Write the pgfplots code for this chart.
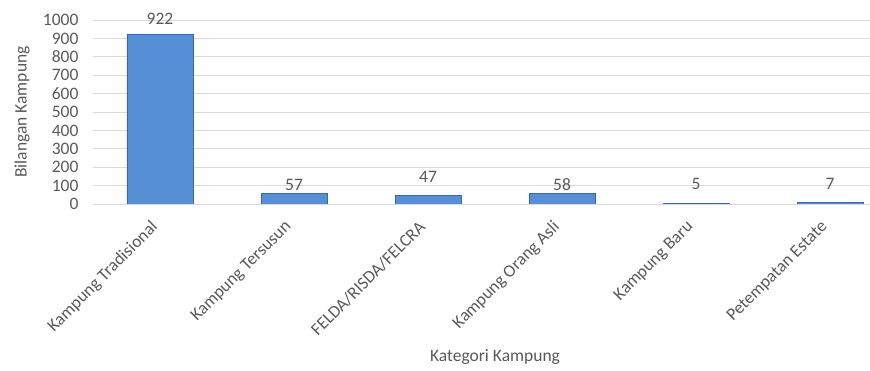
\documentclass[border=0pt]{standalone}
\usepackage{pgfplots}
\pgfplotsset{compat=1.18}
\usepackage{fontspec}
\setmainfont{Carlito}
\definecolor{barblue}{RGB}{86,143,214}
\definecolor{bardark}{RGB}{55,105,170}
\definecolor{txtgray}{RGB}{89,89,89}
\definecolor{gridgray}{RGB}{217,217,217}
\newcommand{\cfont}{\fontsize{17.5}{20}\selectfont}
\begin{document}
\begin{tikzpicture}
\useasboundingbox (-93pt,-166pt) rectangle (777pt,204pt);
\begin{axis}[
  at={(0pt,0pt)}, anchor=south west,
  scale only axis,
  width=804pt, height=184pt,
  ymin=0, ymax=1000,
  ytick={0,100,...,1000},
  xmin=-0.5, xmax=5.5,
  xtick={0,1,2,3,4,5},
  xticklabels={Kampung Tradisional,Kampung Tersusun,FELDA/RISDA/FELCRA,Kampung Orang Asli,Kampung Baru,Petempatan Estate},
  x tick label style={rotate=45, anchor=north east, inner sep=1pt, yshift=-2.5pt, xshift=-17pt, font=\cfont, text=txtgray},
  y tick label style={font=\cfont, text=txtgray, xshift=-11pt},
  /pgf/number format/assume math mode=true,
  /pgf/number format/1000 sep={},
  ymajorgrids, grid style={gridgray, line width=0.9pt},
  major tick length=0pt,
  axis line style={draw=none},
  axis x line*=bottom, axis y line*=left,
  xlabel={Kategori Kampung}, ylabel={Bilangan Kampung},
  label style={font=\cfont, text=txtgray},
  ylabel style={at={(axis description cs:0,0.5)}, anchor=center, yshift=71pt},
  xlabel style={at={(axis description cs:0.5,0)}, anchor=center, yshift=-153pt},
  ybar, bar width=66pt, bar shift=0pt,
  clip=false,
]
\addplot[fill=barblue, draw=bardark, line width=0.6pt] coordinates {(0,922) (1,57) (2,47) (3,58) (4,5) (5,7)};
% data labels, placed where the reference shows them
\addplot[draw=none, fill=none, nodes near coords, point meta=explicit symbolic,
  nodes near coords style={font=\cfont, text=txtgray, anchor=center, inner sep=0pt}]
  coordinates {(0,1005)[922] (1,103)[57] (2,147)[47] (3,103)[58] (4,109)[5] (5,109)[7]};
\draw[gridgray, line width=0.9pt] (axis cs:-0.5,0) -- (axis cs:5.5,0);
\end{axis}
\end{tikzpicture}
\end{document}
